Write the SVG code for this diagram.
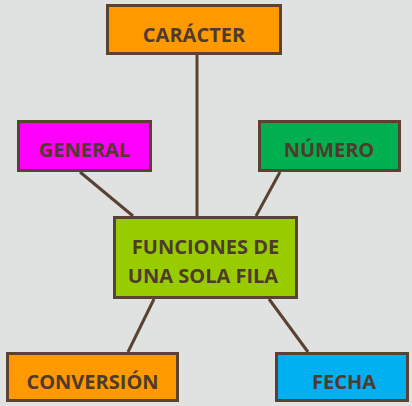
<svg xmlns="http://www.w3.org/2000/svg" width="412" height="406" viewBox="0 0 412 406">
<style>
.box{stroke:#5a4232;stroke-width:3}
.t{font-family:"Open Sans","Liberation Sans",sans-serif;font-weight:bold;font-size:20px;fill:#4e3b2e;text-anchor:middle}
.c{stroke:#5a4232;stroke-width:3;fill:none}
</style>
<rect width="412" height="406" fill="#e0e2e2"/>
<g id="connectors">
<line class="c" x1="197" y1="55" x2="197" y2="216"/>
<line class="c" x1="80" y1="172" x2="133" y2="216"/>
<line class="c" x1="280" y1="172" x2="256" y2="216"/>
<line class="c" x1="154" y1="299" x2="128" y2="352"/>
<line class="c" x1="269" y1="299" x2="308" y2="352"/>
</g>
<g id="caracter"><rect class="box" x="107.5" y="5.5" width="173" height="48" fill="#ff9900"/><text class="t" x="194" y="42">CARÁCTER</text></g>
<g id="general"><rect class="box" x="18.5" y="121.5" width="132" height="49" fill="#ff00ff"/><text class="t" x="84.5" y="157">GENERAL</text></g>
<g id="numero"><rect class="box" x="259.5" y="121.5" width="140" height="49" fill="#00b050"/><text class="t" x="329" y="157">NÚMERO</text></g>
<g id="funciones"><rect class="box" x="114.5" y="217.5" width="182" height="80" fill="#99cc00"/><text class="t" x="205.5" y="254">FUNCIONES DE</text><text class="t" x="203" y="283">UNA SOLA FILA</text></g>
<g id="conversion"><rect class="box" x="7.5" y="353.5" width="170" height="47" fill="#ff9900"/><text class="t" x="92.5" y="389">CONVERSIÓN</text></g>
<g id="fecha"><rect class="box" x="276.5" y="353.5" width="131" height="47" fill="#00b0f0"/><text class="t" x="344" y="389">FECHA</text></g>
</svg>
